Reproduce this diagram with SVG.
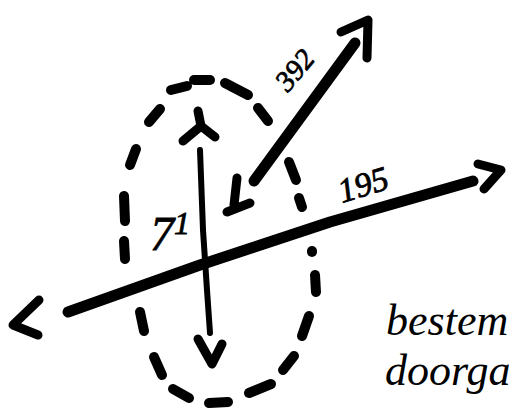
<svg xmlns="http://www.w3.org/2000/svg" width="509" height="416" viewBox="0 0 509 416">
<style>
.dash{stroke:#000;stroke-width:10;stroke-linecap:round;fill:none}
.thick{stroke:#000;stroke-width:11;stroke-linecap:round;stroke-linejoin:round;fill:none}
.thin{stroke:#000;stroke-width:6;stroke-linecap:round;stroke-linejoin:round;fill:none}
.head{stroke:#000;stroke-width:9;stroke-linecap:round;stroke-linejoin:round;fill:none}
.lbl{font-family:"Liberation Serif",serif;font-style:italic;fill:#000;stroke:#000;stroke-width:0.8}
.hand{font-family:"Liberation Serif",serif;font-style:italic;fill:#000;font-size:44px}
</style>
<rect width="509" height="416" fill="#fff"/>
<g id="ellipse">
<path class="dash" d="M171,90 L187,86"/>
<path class="dash" d="M194,80 L210,80"/>
<path class="dash" d="M225,83 L248,95"/>
<path class="dash" d="M258,108 L268,121"/>
<path class="dash" d="M149,122 L160,109"/>
<path class="dash" d="M130,165 L136,149"/>
<path class="dash" d="M124,196 L125,221"/>
<path class="dash" d="M124,241 L125,259"/>
<path class="dash" d="M140,312 L144,331"/>
<path class="dash" d="M154,357 L162,375"/>
<path class="dash" d="M173,389 L189,398"/>
<path class="dash" d="M209,403 L228,402"/>
<path class="dash" d="M249,393 L271,384"/>
<path class="dash" d="M283,370 L294,356"/>
<path class="dash" d="M302,336 L309,316"/>
<path class="dash" d="M315,275 L316,292"/>
<path class="dash" d="M312,251 L312,252"/>
<path class="dash" d="M299,198 L302,207"/>
<path class="dash" d="M289,162 L296,180"/>
</g>
<g id="connectors">
<g id="arrow-71">
<path class="thin" d="M200,150 L203,230 L207,290 L210,333"/>
<path class="head" d="M198,111 L201,126 M183,141 L201,126 L215,137"/>
<path class="head" d="M198,339 L212,364 L222,344"/>
</g>
<g id="arrow-195">
<path class="thick" d="M68,312 L200,265 L330,222 L473,181"/>
<path class="head" d="M39,300 L13,325 L38,335"/>
<path class="head" d="M478,164 L501,170 L484,189"/>
</g>
<g id="arrow-392">
<path class="thick" d="M254,181 L355,43"/>
<path class="head" d="M341,32 L368,20 L367,58"/>
<path class="head" d="M237,178 L234,205 M227,212 L250,203"/>
</g>
</g>
<g id="labels">
<text class="lbl" font-size="29" transform="translate(297,72) rotate(-50)" text-anchor="middle" dominant-baseline="middle">392</text>
<text class="lbl" font-size="34" transform="translate(364,188) rotate(-17)" text-anchor="middle" dominant-baseline="middle">195</text>
<text class="lbl" x="150" y="250" font-size="48">7<tspan font-size="32" dy="-16">1</tspan></text>
<text class="hand" x="386" y="335">bestem</text>
<text class="hand" x="385" y="385">doorga</text>
</g>
</svg>
